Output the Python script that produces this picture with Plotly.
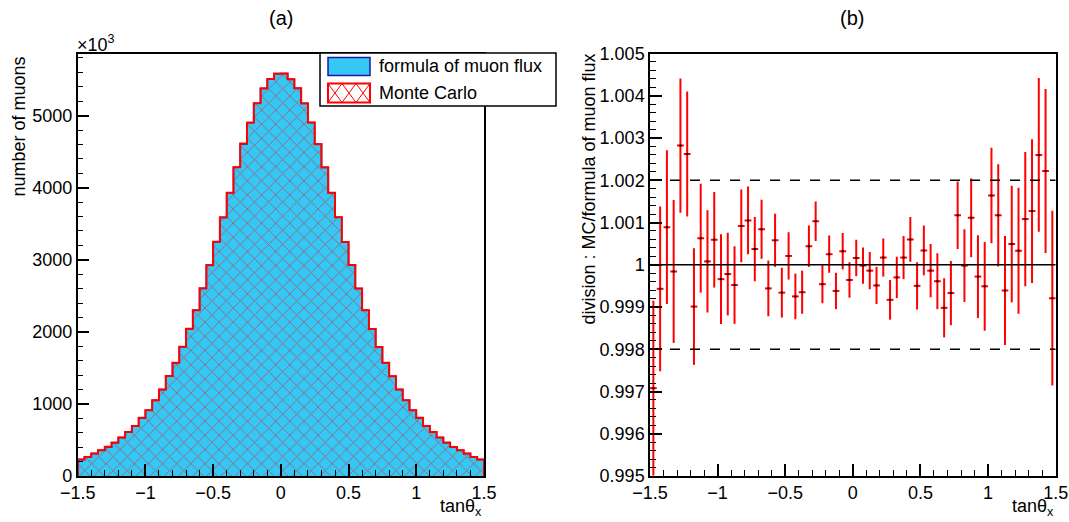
import plotly.graph_objects as go

# ---------------- data ----------------
x_min, x_max, n_bins = -1.5, 1.5, 60

# formula-of-muon-flux histogram (in units of 10^3 muons)
formula_counts = [228, 264, 311, 357, 403, 463, 533, 611, 694, 806,
                  913, 1051, 1200, 1385, 1570, 1792, 2042, 2301, 2602, 2926,
                  3250, 3589, 3931, 4283, 4607, 4903, 5172, 5380, 5505, 5583,
                  5583, 5505, 5380, 5172, 4903, 4607, 4283, 3931, 3589, 3250,
                  2926, 2602, 2301, 2042, 1792, 1570, 1385, 1200, 1051, 913,
                  806, 694, 611, 533, 463, 403, 357, 311, 264, 228]

# ratio MC / formula and its error
ratio = [0.99708, 0.99943, 1.00089, 0.99984, 1.00282, 1.00262, 0.99901, 1.00063, 1.00008, 1.00059,
         0.99966, 0.99978, 0.99952, 1.00092, 1.00105, 1.00037, 1.00084, 0.99944, 1.00058, 0.99934,
         1.00021, 0.99925, 0.99935, 1.00044, 1.00103, 0.99954, 1.00025, 0.99938, 1.00032, 0.99964,
         1.00016, 0.99998, 0.99986, 0.99951, 1.00017, 0.99917, 0.99970, 1.00017, 1.00060, 0.99950,
         1.00034, 0.99986, 0.99961, 0.99898, 0.99933, 1.00117, 0.99998, 1.00111, 0.99972, 0.99949,
         1.00164, 1.00117, 0.99939, 1.00049, 1.00033, 1.00108, 1.00127, 1.00260, 1.00222, 0.99921]

ratio_err = [0.00207, 0.00195, 0.00182, 0.00169, 0.00159, 0.00148, 0.00138, 0.00129, 0.00121, 0.00113,
             0.00106, 0.00098, 0.00092, 0.00086, 0.00080, 0.00076, 0.00070, 0.00066, 0.00063, 0.00059,
             0.00056, 0.00054, 0.00051, 0.00049, 0.00047, 0.00045, 0.00044, 0.00043, 0.00043, 0.00042,
             0.00043, 0.00043, 0.00044, 0.00044, 0.00045, 0.00047, 0.00049, 0.00051, 0.00053, 0.00056,
             0.00059, 0.00063, 0.00066, 0.00070, 0.00076, 0.00080, 0.00086, 0.00093, 0.00098, 0.00105,
             0.00113, 0.00121, 0.00129, 0.00138, 0.00149, 0.00159, 0.00170, 0.00182, 0.00194, 0.00207]

ref_solid = [1.0]
ref_dashed = [0.998, 1.002]

# Monte Carlo histogram = formula * ratio
mc_counts = [f * r for f, r in zip(formula_counts, ratio)]

# ---------------- helpers ----------------
W, H = 1069, 522
FONT = "Liberation Sans, Arial, Helvetica, sans-serif"
bw = (x_max - x_min) / n_bins
edges = [x_min + i * bw for i in range(n_bins)]
centers = [e + bw / 2 for e in edges]


def step(counts):
    xs = [x_min] + edges + [x_max]
    ys = [0] + list(counts) + [0]
    return xs, ys


def px(x):
    return x / W


def py(y):
    return 1 - y / H


fig = go.Figure()

sx, sy = step(formula_counts)
fig.add_trace(go.Scatter(x=sx, y=sy, mode="lines",
                         line=dict(color="#1a1aa0", width=1.5, shape="hv"),
                         fill="tozeroy", fillcolor="#35c8f4",
                         xaxis="x", yaxis="y", showlegend=False, hoverinfo="skip"))
mx, my = step(mc_counts)
fig.add_trace(go.Scatter(x=mx, y=my, mode="lines",
                         line=dict(color="#ff0000", width=2, shape="hv"),
                         fill="tozeroy", fillcolor="rgba(0,0,0,0)",
                         fillpattern=dict(shape="x", fgcolor="#ff0000",
                                          bgcolor="rgba(0,0,0,0)", size=10, solidity=0.17),
                         xaxis="x", yaxis="y", showlegend=False, hoverinfo="skip"))

fig.add_trace(go.Scatter(x=centers, y=ratio, mode="markers",
                         marker=dict(color="black", size=2, symbol="square"),
                         error_y=dict(type="data", array=ratio_err, color="#ff0000",
                                      thickness=2, width=0),
                         error_x=dict(type="constant", value=bw / 2, color="#ff0000",
                                      thickness=2, width=0),
                         xaxis="x2", yaxis="y2", showlegend=False))

y_dom = [py(476), py(53.5)]
axis_common = dict(showgrid=False, zeroline=False, showline=True, linecolor="black",
                   linewidth=1.5, mirror=True, ticks="inside", ticklen=12, tickwidth=1.5,
                   tickcolor="black", automargin=False,
                   tickfont=dict(size=18, color="black", family=FONT))

fig.update_layout(
    width=W, height=H, autosize=False,
    margin=dict(l=0, r=0, t=0, b=0, pad=0),
    paper_bgcolor="white", plot_bgcolor="white",
    font=dict(family=FONT, color="black"),
    xaxis=dict(domain=[px(77.7), px(484)], range=[x_min, x_max], tick0=0, dtick=0.5,
               minor=dict(ticks="inside", ticklen=6, tickwidth=1.2, tickcolor="black", dtick=0.1),
               anchor="y", **axis_common),
    yaxis=dict(domain=y_dom, range=[0, 5862], tick0=0, dtick=1000, tickformat="d",
               minor=dict(ticks="inside", ticklen=6, tickwidth=1.2, tickcolor="black", dtick=200),
               anchor="x", **axis_common),
    xaxis2=dict(domain=[px(650), px(1055.7)], range=[x_min, x_max], tick0=0, dtick=0.5,
                minor=dict(ticks="inside", ticklen=6, tickwidth=1.2, tickcolor="black", dtick=0.1),
                anchor="y2", **axis_common),
    yaxis2=dict(domain=y_dom, range=[0.99499999, 1.00500001], tick0=1, dtick=0.001,
                minor=dict(ticks="inside", ticklen=6, tickwidth=1.2, tickcolor="black", dtick=0.0002),
                anchor="x2", **axis_common),
)

shapes = []
for lv in ref_solid:
    shapes.append(dict(type="line", xref="x2", yref="y2", x0=x_min, x1=x_max, y0=lv, y1=lv,
                       line=dict(color="black", width=1.5)))
for lv in ref_dashed:
    shapes.append(dict(type="line", xref="x2", yref="y2", x0=x_min, x1=x_max, y0=lv, y1=lv,
                       line=dict(color="black", width=1.5, dash="10px,10px")))

# legend (drawn manually, ROOT style)
shapes.append(dict(type="rect", xref="paper", yref="paper", x0=px(320), x1=px(556),
                   y0=py(106), y1=py(53), fillcolor="white", line=dict(color="black", width=1.5)))
shapes.append(dict(type="rect", xref="paper", yref="paper", x0=px(328), x1=px(370),
                   y0=py(75.5), y1=py(57.5), fillcolor="#35c8f4", line=dict(color="#1a1aa0", width=1.5)))
shapes.append(dict(type="rect", xref="paper", yref="paper", x0=px(328), x1=px(370),
                   y0=py(102.5), y1=py(83.5), fillcolor="white", line=dict(color="#ff0000", width=2)))
cell = 14
for i in range(3):
    xa, xb = 328 + i * cell, 328 + (i + 1) * cell
    shapes.append(dict(type="line", xref="paper", yref="paper", x0=px(xa), x1=px(xb),
                       y0=py(83.5), y1=py(102.5), line=dict(color="#ff0000", width=1)))
    shapes.append(dict(type="line", xref="paper", yref="paper", x0=px(xa), x1=px(xb),
                       y0=py(102.5), y1=py(83.5), line=dict(color="#ff0000", width=1)))
fig.update_layout(shapes=shapes)

ann = []


def add_text(text, x, y, size=18, xanchor="center", yanchor="middle", angle=0):
    ann.append(dict(text=text, x=px(x), y=py(y), xref="paper", yref="paper",
                    xanchor=xanchor, yanchor=yanchor, showarrow=False, textangle=angle,
                    font=dict(size=size, color="black", family=FONT)))


add_text("formula of muon flux", 377, 66.5, size=18, xanchor="left")
add_text("Monte Carlo", 377, 93, size=18, xanchor="left")
add_text("(a)", 281, 18, size=20)
add_text("(b)", 852, 18, size=20)
add_text("×10<sup>3</sup>", 75, 43, size=18, xanchor="left")
add_text("number of muons", 18.5, 55, size=18, yanchor="top", angle=-90)
add_text("division : MC/formula of muon flux", 589, 52, size=18, yanchor="top", angle=-90)
add_text("tanθ<sub>x</sub>", 484, 507, size=18, xanchor="right")
add_text("tanθ<sub>x</sub>", 1055.7, 507, size=18, xanchor="right")
fig.update_layout(annotations=ann)

fig.write_html("out.html", config={"displayModeBar": False},
               post_script="document.body.style.margin='0px';document.body.style.overflow='hidden';")
